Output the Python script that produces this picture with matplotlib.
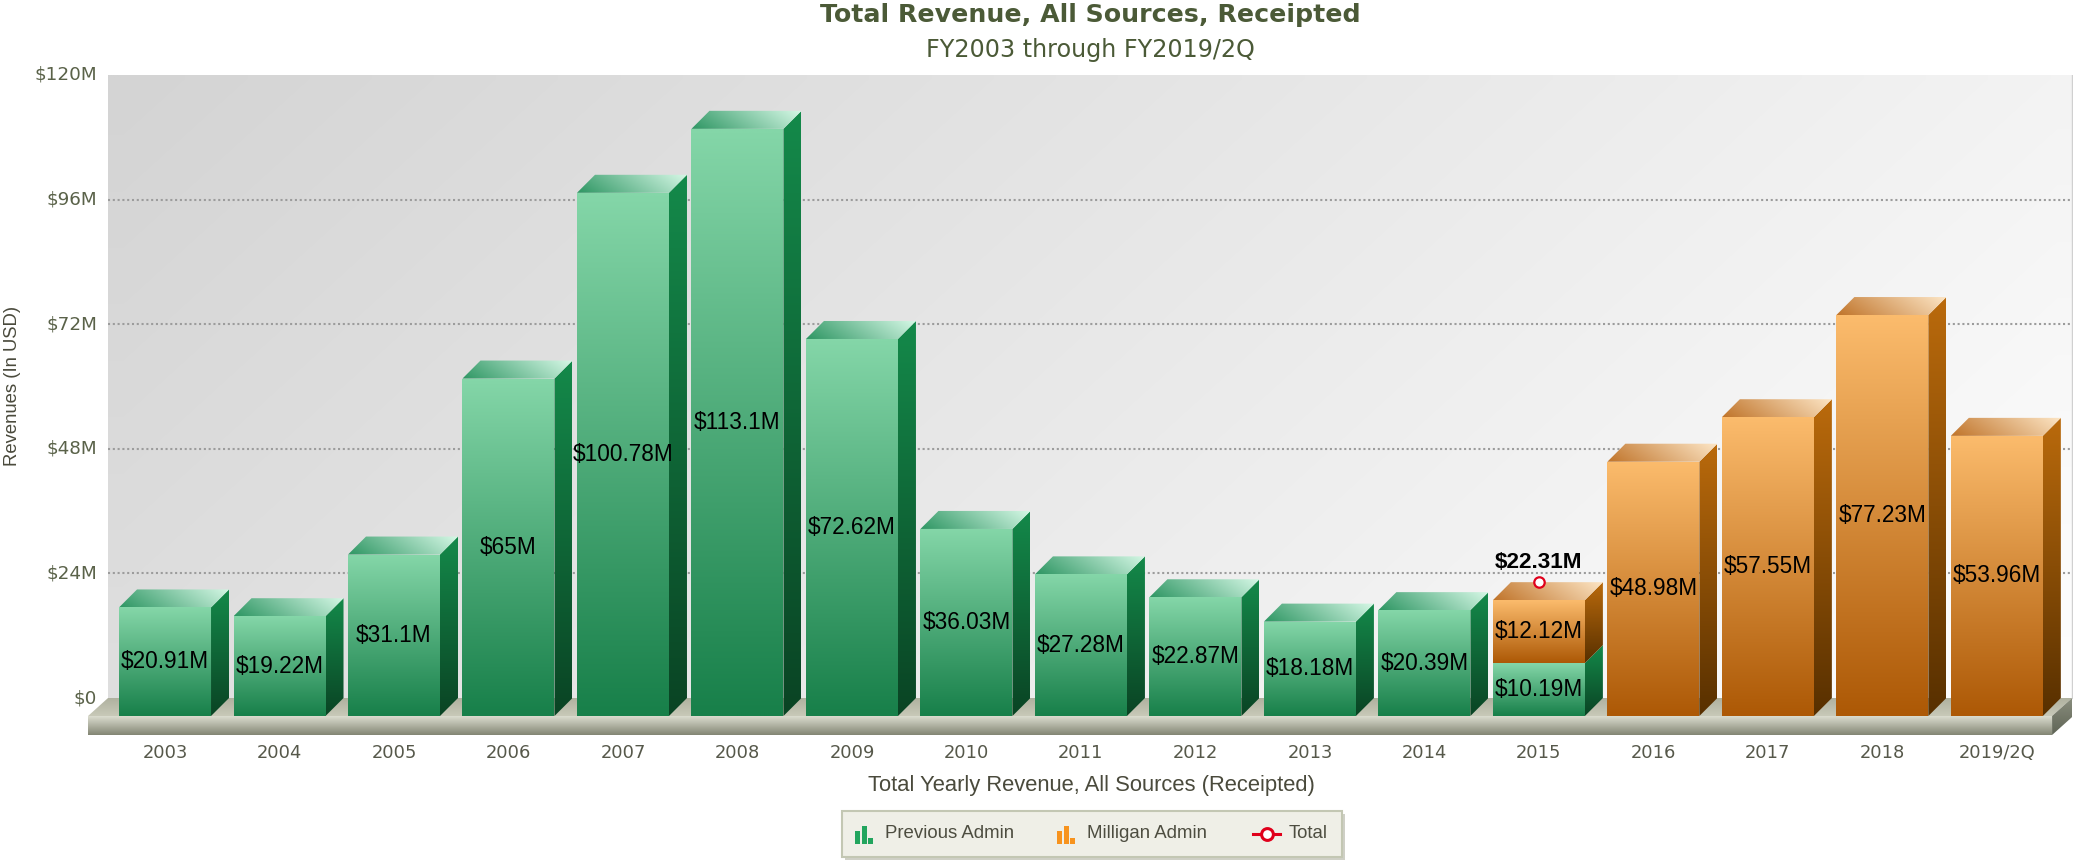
import numpy as np
import matplotlib
matplotlib.use('Agg')
import matplotlib.pyplot as plt
import matplotlib.transforms as mtransforms
from matplotlib.patches import Polygon, Rectangle
from matplotlib.colors import to_rgba

# data (millions of USD)
years = ['2003', '2004', '2005', '2006', '2007', '2008', '2009', '2010', '2011',
         '2012', '2013', '2014', '2015', '2016', '2017', '2018', '2019/2Q']
prev_admin = [20.91, 19.22, 31.1, 65, 100.78, 113.1, 72.62, 36.03, 27.28,
              22.87, 18.18, 20.39, 10.19, 0, 0, 0, 0]
milligan_admin = [0, 0, 0, 0, 0, 0, 0, 0, 0, 0, 0, 0, 12.12, 48.98, 57.55, 77.23, 53.96]
total = [None] * 12 + [22.31] + [None] * 4
y_ticks = [0, 24, 48, 72, 96, 120]
y_tick_labels = ['$0', '$24M', '$48M', '$72M', '$96M', '$120M']

W_PX, H_PX = 2073, 864
fig = plt.figure(figsize=(W_PX / 100, H_PX / 100), dpi=100)

# pixel geometry of the 3d canvas
SX = 114.49          # px per category
SY = 623 / 120       # px per $1M
DX, DY = 18 / SX, 18 / SY        # bar depth
FDX = 20 / SX                    # floor depth (x)
SLAB = 19 / SY
BW = 92 / SX
WALL_L, WALL_R = -0.655, 16.5

ax = fig.add_axes([88 / W_PX, 128.1 / H_PX, 1985 / W_PX, 660.9 / H_PX])
ax.axis('off')

SANS = ['Liberation Sans', 'DejaVu Sans']
VERD = ['DejaVu Sans']


def shade(verts, c1, c2, d=(0, -1), z=3, n=64):
    verts = np.asarray(verts)
    x0, y0 = verts.min(0)
    x1, y1 = verts.max(0)
    U, V = np.meshgrid(np.linspace(0, 1, n), np.linspace(1, 0, n))
    t = U * d[0] + V * d[1]
    t = (t - t.min()) / (t.max() - t.min())
    col = (1 - t)[..., None] * np.array(to_rgba(c1)) + t[..., None] * np.array(to_rgba(c2))
    poly = Polygon(verts, closed=True, fc='none', ec='none')
    ax.add_patch(poly)
    im = ax.imshow(col, extent=(x0, x1, y0, y1), origin='upper', aspect='auto',
                   interpolation='bilinear', zorder=z)
    im.set_clip_path(poly)


GREEN = dict(front=('#84d6a8', '#18804a'), side=('#14894a', '#0a4424'), top=('#2e9663', '#d6f8e6'))
ORANGE = dict(front=('#fbbb6c', '#ad5906'), side=('#ba6a0c', '#583000'), top=('#c0742a', '#fde6c6'))


def draw_bar(xc, y0, y1, pal, with_top=True, z=3):
    xl, xr = xc - DX - BW / 2, xc - DX + BW / 2
    f0, f1 = y0 - DY, y1 - DY
    shade([(xr, f0), (xr + DX, y0), (xr + DX, y1), (xr, f1)], *pal['side'], d=(0, -1), z=z)
    if with_top:
        shade([(xl, f1), (xr, f1), (xr + DX, y1), (xl + DX, y1)], *pal['top'], d=(1, 0.25), z=z)
    shade([(xl, f0), (xr, f0), (xr, f1), (xl, f1)], *pal['front'], d=(0, -1), z=z + 0.1)


# back wall
shade([(WALL_L, 0), (WALL_R, 0), (WALL_R, 120), (WALL_L, 120)], '#d4d4d4', '#fefefe', d=(1, -0.35), z=0)
ax.plot([WALL_R, WALL_R], [0, 120], color='#d0d0d0', lw=1, zorder=0.5)

# gridlines
for v in y_ticks[1:-1]:
    ax.plot([WALL_L, WALL_R], [v, v], color='#9c9c9c', lw=1.5, ls=(0, (1, 1.3)), zorder=1)

# floor
shade([(WALL_L, 0), (WALL_R, 0), (WALL_R - FDX, -DY), (WALL_L - FDX, -DY)], '#aeb09e', '#c8c9b8', z=1.5)
shade([(WALL_L - FDX, -DY), (WALL_R - FDX, -DY), (WALL_R - FDX, -DY - SLAB), (WALL_L - FDX, -DY - SLAB)],
      '#e0e1d4', '#838674', z=1.5)
shade([(WALL_R - FDX, -DY), (WALL_R, 0), (WALL_R, -SLAB), (WALL_R - FDX, -DY - SLAB)],
      '#8a8e7e', '#5f6455', z=1.5)

# bars and value labels
lab_kw = dict(ha='center', va='center', fontsize=16.3, color='black', family=SANS, zorder=8)
for i, (p, m) in enumerate(zip(prev_admin, milligan_admin)):
    if p > 0:
        draw_bar(i, 0, p, GREEN, with_top=(m == 0))
        ax.text(i - DX, p / 2 - DY, f'${p:g}M', **lab_kw)
    if m > 0:
        draw_bar(i, p, p + m, ORANGE)
        ax.text(i - DX, p + m / 2 - DY, f'${m:g}M', **lab_kw)

# total series
for i, t in enumerate(total):
    if t is None:
        continue
    ax.plot(i - DX, t, 'o', ms=7.5, mfc='white', mec='#e0001b', mew=1.6, zorder=9)
    ax.text(i - DX, t, f'${t:g}M', ha='center', va='center', fontsize=16.2, fontweight='bold',
            family=SANS, zorder=9,
            transform=mtransforms.offset_copy(ax.transData, fig=fig, x=0, y=20, units='dots'))

# axis labels
ytr = mtransforms.offset_copy(ax.transData, fig=fig, x=-11, y=0, units='dots')
for v, s in zip(y_ticks, y_tick_labels):
    ax.text(WALL_L, v, s, ha='right', va='center', fontsize=13.2, color='#5a6249',
            family=VERD, transform=ytr)
for i, s in enumerate(years):
    ax.text(i - DX, -55 / SY, s, ha='center', va='center', fontsize=12.9, color='#56584a',
            family=VERD)

ax.set_xlim(-0.83, 16.508)
ax.set_ylim(-7.3, 120)

fig.text(1090 / W_PX, 1 - 15 / H_PX, 'Total Revenue, All Sources, Receipted', ha='center',
         va='center', fontsize=18.2, fontweight='bold', color='#4b5a37', family=VERD)
fig.text(1090 / W_PX, 1 - 50 / H_PX, 'FY2003 through FY2019/2Q', ha='center', va='center',
         fontsize=17.2, color='#4b5a37', family=VERD)
fig.text(1091 / W_PX, 1 - 785 / H_PX, 'Total Yearly Revenue, All Sources (Receipted)',
         ha='center', va='center', fontsize=15.8, color='#4a4a3c', family=SANS)
fig.text(13 / W_PX, 1 - 386 / H_PX, 'Revenues (In USD)', ha='center', va='center',
         rotation=90, fontsize=13.3, color='#4a4a3c', family=SANS)

# legend
LW, LH = 500, 46
lax = fig.add_axes([842 / W_PX, 7 / H_PX, LW / W_PX, LH / H_PX])
lax.set_xlim(0, LW)
lax.set_ylim(LH, 0)
lax.axis('off')
lax.add_patch(Rectangle((3, 3), LW, LH, fc='#cfd0c6', ec='none', clip_on=False, zorder=0))
lax.add_patch(Rectangle((0, 0), LW, LH, fc='#efefe7', ec='#c3c7b3', lw=1.5, clip_on=False, zorder=1))
icon_bars = [(0, 13), (6.5, 18), (13, 6.5)]
for x0, col, name in [(13, '#22a55e', 'Previous Admin'), (215, '#f7931e', 'Milligan Admin')]:
    for bx, h in icon_bars:
        lax.add_patch(Rectangle((x0 + bx, 33 - h), 5, h, fc=col, ec='none', zorder=2))
    lax.text(x0 + 30, 23, name, va='center', fontsize=13.4, color='#4d4d40', family=SANS, zorder=2)
lax.plot([411, 438], [23, 23], color='#e0001b', lw=2.2, zorder=2)
lax.plot(424.5, 23, 'o', ms=8.5, mfc='white', mec='#e0001b', mew=2.2, zorder=3)
lax.text(447, 23, 'Total', va='center', fontsize=13.4, color='#4d4d40', family=SANS, zorder=2)

fig.savefig('out.png', dpi=100, facecolor='white')
